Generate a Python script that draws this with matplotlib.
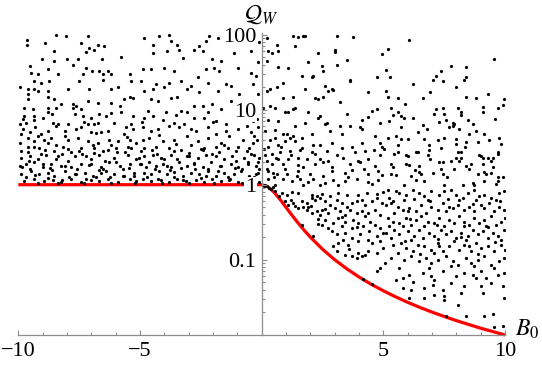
import numpy as np
import matplotlib
matplotlib.use("Agg")
import matplotlib.pyplot as plt
from matplotlib.ticker import FixedLocator, MultipleLocator, LogLocator, NullFormatter

plt.rcParams['font.family'] = ['Liberation Serif', 'DejaVu Serif']
plt.rcParams['mathtext.fontset'] = 'stix'

# scatter points (B0, Q_W)
pts_left_far = [
    (-8.45, 98), (-8.04, 97), (-7.15, 96), (-9.64, 84), (-9.64, 74), (-8.90, 78), (-7.42, 78),
    (-7.08, 67), (-6.87, 63), (-6.73, 74), (-6.46, 70), (-8.52, 60), (-7.22, 59), (-9.04, 48),
    (-8.00, 47), (-8.52, 44), (-7.53, 47), (-6.57, 47), (-5.78, 50), (-7.76, 40), (-9.54, 38),
    (-8.79, 35), (-7.22, 36), (-6.98, 33), (-9.47, 31), (-9.20, 30), (-8.38, 30), (-7.35, 30),
    (-6.67, 33), (-6.53, 30), (-6.32, 33), (-6.19, 30), (-5.43, 30), (-9.34, 24), (-9.06, 23),
    (-8.72, 24), (-7.49, 24), (-6.53, 25), (-5.36, 24), (-9.94, 20), (-9.61, 19), (-9.34, 19),
    (-9.20, 18), (-8.79, 18), (-7.97, 19), (-7.08, 19), (-6.19, 19), (-5.91, 20), (-9.61, 16),
    (-8.79, 15), (-5.30, 14.5), (-5.43, 15), (-9.61, 13.8), (-8.52, 13.8), (-8.24, 11.8),
    (-7.76, 11.8), (-7.63, 11.2), (-7.15, 13), (-6.73, 12.4), (-6.19, 12.4), (-5.84, 11.2),
    (-5.64, 13.8), (-9.75, 10.6), (-9.41, 10.1), (-8.79, 10.6), (-8.45, 10.6), (-7.76, 10.6),
    (-7.42, 10.1), (-9.75, 8.2), (-9.34, 8.2), (-8.99, 7.8), (-8.79, 9.2), (-7.69, 8.7),
    (-7.35, 8.2), (-7.01, 7.8), (-6.67, 8.7), (-6.39, 8.2), (-5.78, 9.2), (-5.30, 8.2),
    (-9.95, 6.4), (-9.68, 6.7), (-9.34, 7.4), (-8.58, 6.7), (-8.45, 6.1), (-8.38, 6.4),
    (-7.97, 6.4), (-7.42, 5.8), (-7.15, 6.4), (-6.87, 6.4), (-6.73, 6.7), (-6.05, 6.7),
    (-5.57, 5.8), (-5.36, 6.4), (-9.82, 5.5), (-9.89, 4.7), (-9.54, 5.0), (-9.06, 4.7),
    (-8.79, 5.2), (-8.10, 5.2), (-7.63, 5.5), (-7.01, 5.0), (-6.60, 5.0), (-6.32, 5.2),
    (-5.64, 4.7), (-5.30, 5.5), (-9.95, 3.6), (-9.61, 4.2), (-9.34, 3.8), (-9.20, 4.5),
    (-8.93, 4.0), (-8.65, 4.2), (-8.45, 3.4), (-7.97, 4.0), (-7.56, 4.2), (-7.15, 3.8),
    (-6.73, 3.6), (-6.26, 4.0), (-5.91, 3.8), (-5.43, 4.0), (-9.89, 2.8), (-9.61, 3.2),
    (-9.34, 3.2), (-9.13, 3.1), (-8.79, 3.6), (-8.52, 2.8), (-8.17, 3.2), (-7.83, 2.7),
    (-7.42, 3.1), (-6.87, 3.1), (-6.53, 2.8), (-6.19, 3.4), (-5.98, 3.1), (-5.36, 3.1),
    (-5.16, 3.6), (-9.89, 2.3), (-9.54, 2.4), (-9.20, 2.2), (-8.86, 2.5), (-8.38, 2.4),
    (-7.97, 2.1), (-7.69, 2.4), (-7.22, 2.4), (-7.01, 2.2), (-6.67, 2.5), (-6.05, 2.3),
    (-5.50, 2.5), (-5.16, 2.2), (-9.95, 1.8), (-9.68, 1.9), (-9.34, 2.0), (-8.99, 1.7),
    (-8.65, 1.9), (-8.24, 1.8), (-7.83, 1.7), (-7.42, 1.9), (-7.01, 1.9), (-6.60, 1.7),
    (-6.26, 2.0), (-5.84, 1.8), (-5.43, 1.9), (-9.89, 1.38), (-9.47, 1.5), (-9.13, 1.38),
    (-8.79, 1.45), (-8.52, 1.3), (-8.10, 1.5), (-7.69, 1.38), (-7.28, 1.45), (-6.94, 1.3),
    (-6.60, 1.45), (-6.39, 1.5), (-6.05, 1.38), (-5.64, 1.3), (-5.23, 1.45), (-9.75, 1.12),
    (-9.34, 1.18), (-8.93, 1.12), (-8.58, 1.14), (-8.24, 1.1), (-7.83, 1.18), (-7.42, 1.1),
    (-7.01, 1.14), (-6.67, 1.12), (-6.32, 1.18), (-5.91, 1.1), (-5.43, 1.18), (-5.16, 1.12),
]

pts_left_near = [
    (-4.21, 97), (-3.80, 99), (-2.15, 97), (-4.83, 90), (-4.48, 74), (-3.73, 82), (-3.46, 74),
    (-2.57, 70), (-2.29, 82), (-1.81, 90), (-1.20, 78), (-3.87, 60), (-3.39, 63), (-2.77, 63),
    (-2.43, 60), (-4.48, 57), (-3.25, 49), (-2.02, 47), (-1.68, 45), (-1.13, 57), (-0.17, 43),
    (-4.89, 35), (-4.55, 35), (-4.00, 36), (-3.59, 33), (-2.63, 27), (-2.29, 35), (-1.95, 36),
    (-1.74, 33), (-0.99, 36), (-0.44, 31), (-4.96, 24), (-4.35, 22), (-3.80, 23), (-3.32, 24),
    (-2.91, 21), (-2.22, 23), (-1.47, 22), (-1.26, 21), (-0.37, 22), (-4.83, 18), (-4.48, 19),
    (-4.00, 20), (-3.05, 19), (-2.57, 17), (-1.81, 18), (-0.92, 16), (-4.55, 13.8), (-4.28, 13),
    (-3.73, 14.5), (-3.46, 15), (-2.77, 11.2), (-2.43, 11.2), (-2.02, 11.8), (-1.68, 10.1),
    (-1.26, 13), (-4.69, 9.6), (-3.94, 9.2), (-3.32, 9.6), (-3.05, 9.2), (-2.22, 9.2),
    (-4.83, 7.8), (-4.48, 8.2), (-4.07, 7.4), (-3.59, 6.7), (-3.18, 6.4), (-2.77, 7.8),
    (-2.36, 7.8), (-1.88, 7.1), (-1.47, 6.4), (-0.37, 7.1), (-4.89, 5.8), (-4.55, 5.2),
    (-4.28, 5.5), (-3.80, 6.1), (-3.39, 5.8), (-2.70, 5.2), (-2.22, 5.8), (-1.88, 4.7),
    (-0.99, 5.5), (-0.44, 5.0), (-0.17, 5.8), (-4.89, 4.0), (-4.62, 4.2), (-4.07, 3.8),
    (-3.59, 4.0), (-3.05, 4.5), (-2.63, 3.8), (-2.22, 4.2), (-1.68, 3.6), (-1.33, 4.5),
    (-0.78, 4.0), (-0.37, 3.6), (-4.83, 3.1), (-4.35, 3.2), (-3.80, 3.1), (-3.32, 2.9),
    (-2.91, 3.4), (-2.36, 3.1), (-1.88, 3.2), (-1.40, 3.1), (-0.99, 3.2), (-0.51, 3.1),
    (-4.83, 2.4), (-4.48, 2.5), (-4.14, 2.3), (-3.73, 2.5), (-3.46, 2.2), (-3.05, 2.4),
    (-2.63, 2.3), (-2.29, 2.5), (-1.88, 2.4), (-1.54, 2.2), (-1.20, 2.4), (-0.72, 2.3),
    (-0.31, 2.5), (-4.96, 1.9), (-4.62, 2.0), (-4.35, 1.8), (-4.07, 1.9), (-3.73, 1.7),
    (-3.39, 2.0), (-3.05, 1.8), (-2.77, 1.9), (-2.43, 1.7), (-2.08, 2.0), (-1.68, 1.8),
    (-1.26, 1.9), (-0.99, 1.7), (-0.58, 2.0), (-0.24, 1.8), (-4.83, 1.45), (-4.55, 1.38),
    (-4.21, 1.5), (-3.87, 1.38), (-3.59, 1.48), (-3.25, 1.3), (-2.91, 1.45), (-2.57, 1.38),
    (-2.22, 1.5), (-1.88, 1.3), (-1.54, 1.45), (-1.13, 1.38), (-0.85, 1.5), (-0.51, 1.3),
    (-0.17, 1.45), (-4.89, 1.18), (-4.55, 1.12), (-4.14, 1.14), (-3.80, 1.1), (-3.46, 1.18),
    (-3.11, 1.12), (-2.70, 1.14), (-2.36, 1.1), (-2.02, 1.18), (-1.68, 1.12), (-1.33, 1.14),
    (-0.99, 1.1), (-0.65, 1.18), (-0.37, 1.12),
]

pts_left_low = [
    (-9.7, 1.25), (-9.5, 1.6), (-9.2, 1.05), (-9.0, 1.9), (-8.8, 1.22), (-8.6, 1.55),
    (-8.35, 1.05), (-8.1, 1.75), (-7.9, 1.28), (-7.6, 1.6), (-7.3, 1.06), (-7.1, 1.85),
    (-6.8, 1.25), (-6.5, 1.6), (-6.2, 1.04), (-6.0, 2.0), (-5.7, 1.3), (-5.45, 1.65),
    (-5.2, 1.05), (-5.0, 1.9), (-4.7, 1.25), (-4.4, 1.6), (-4.1, 1.05), (-3.9, 1.8),
    (-3.6, 1.27), (-3.3, 1.65), (-3.0, 1.04), (-2.8, 1.95), (-2.5, 1.24), (-2.2, 1.6),
    (-1.95, 1.05), (-1.7, 1.8), (-1.4, 1.25), (-1.1, 1.65), (-0.8, 1.06), (-0.55, 1.9),
    (-0.3, 1.28), (-0.1, 1.6), (-9.6, 2.7), (-8.9, 2.9), (-8.2, 2.6), (-7.5, 2.8),
    (-6.9, 2.65), (-6.3, 2.9), (-5.6, 2.7), (-4.95, 2.85), (-4.3, 2.6), (-3.6, 2.8),
    (-3.0, 2.65), (-2.4, 2.9), (-1.75, 2.7), (-1.05, 2.85), (-0.45, 2.6), (-0.2, 3.9),
    (-0.1, 2.3), (-0.25, 1.4),
    (-9.85, 1.7), (-9.55, 2.1), (-9.3, 1.35), (-9.05, 2.6), (-8.7, 1.65), (-8.45, 2.2),
    (-8.2, 1.15), (-7.95, 3.0), (-7.65, 1.4), (-7.4, 2.6), (-7.2, 1.2), (-6.95, 3.4),
    (-6.7, 1.55), (-6.45, 2.1), (-6.25, 1.25), (-5.95, 2.7), (-5.7, 1.6), (-5.5, 3.2),
    (-5.25, 1.3), (-5.05, 2.3), (-4.75, 1.7), (-4.5, 2.9), (-4.25, 1.2), (-4.0, 2.2),
    (-3.75, 1.55), (-3.5, 3.5), (-3.25, 1.15), (-3.0, 2.4), (-2.75, 1.6), (-2.5, 3.0),
    (-2.3, 1.3), (-2.05, 2.6), (-1.8, 1.5), (-1.55, 3.4), (-1.3, 1.2), (-1.05, 2.1),
    (-0.8, 1.6), (-0.6, 2.8), (-0.4, 1.15), (-0.15, 2.0), (-0.12, 1.1), (-0.3, 4.5),
    (-0.2, 7.5), (-0.35, 12), (-0.15, 16), (-0.25, 28), (-0.45, 60), (-0.1, 80),
    (-9.8, 7.5), (-9.3, 5.8), (-8.6, 8.8), (-8.1, 4.4), (-7.3, 6.9), (-6.8, 4.9),
    (-6.2, 9.0), (-5.55, 4.3), (-4.9, 6.8), (-4.2, 4.6), (-3.5, 8.4), (-2.9, 5.6),
    (-2.0, 6.9), (-1.45, 5.2), (-0.8, 8.6), (-0.6, 6.0),
]

pts_right_near_upper = [
    (0.21, 90), (1.30, 97), (1.51, 93), (1.71, 96), (1.78, 95), (3.08, 97), (3.77, 93),
    (0.62, 74), (0.27, 60), (0.41, 57), (0.68, 60), (1.37, 70), (2.33, 57), (3.01, 63),
    (3.01, 59), (0.21, 45), (0.68, 37), (1.10, 36), (1.92, 43), (2.47, 38), (2.53, 33),
    (3.08, 40), (3.49, 46), (4.93, 55), (1.64, 28), (2.05, 27), (2.12, 28), (3.63, 25),
    (3.63, 24), (4.73, 27), (0.21, 18), (0.34, 19), (0.62, 20), (0.89, 23), (1.78, 19),
    (2.60, 21), (2.74, 18), (2.88, 19), (2.95, 18.5), (4.38, 17), (0.89, 14.2), (1.30, 15),
    (2.19, 14.5), (2.33, 13.8), (2.53, 15), (3.22, 12.8), (0.07, 10.6), (0.34, 11.2),
    (0.55, 10.6), (0.96, 9.2), (1.10, 9.2), (1.30, 10.1), (1.37, 10.6), (1.92, 9.2),
    (2.40, 8.2), (3.49, 8.9), (4.52, 9.6), (4.73, 10.1), (0.27, 7.4), (0.68, 7.1),
    (2.33, 7.8), (2.67, 6.7), (4.11, 7.4), (4.38, 8.0), (4.86, 6.7), (0.14, 5.2),
    (0.55, 5.3), (0.89, 4.8), (1.37, 6.1), (1.78, 6.7), (2.60, 6.4), (3.22, 6.1),
    (3.63, 6.1), (4.04, 5.8), (4.11, 5.5), (0.55, 4.2), (1.03, 4.7), (1.16, 4.2),
    (1.30, 4.5), (1.37, 3.8), (1.64, 4.2), (2.05, 4.8), (2.81, 5.2), (3.29, 4.8),
    (4.66, 4.5), (0.27, 3.2), (0.68, 3.4), (0.96, 3.8), (1.64, 3.1), (2.12, 3.4),
    (2.40, 3.4), (2.88, 3.6), (3.70, 3.2), (4.11, 3.6), (4.86, 3.6), (4.93, 3.2),
    (0.14, 2.5), (0.41, 2.6), (0.75, 2.7), (1.16, 2.8), (1.58, 2.9), (2.05, 2.7),
    (2.67, 2.8), (3.08, 2.5), (3.84, 2.7), (4.25, 2.8), (4.86, 2.5), (0.21, 2.1),
    (0.68, 2.2), (1.10, 2.2), (1.51, 2.3), (1.85, 2.2), (2.40, 2.2), (2.74, 2.1),
    (3.36, 2.3), (3.97, 2.1), (4.38, 2.2), (0.41, 1.9), (0.89, 1.9), (1.51, 1.85),
    (2.19, 1.9), (2.53, 2.0), (3.63, 1.9), (4.04, 2.0), (4.66, 1.8), (0.27, 1.5),
    (0.48, 1.45), (0.62, 1.4), (1.03, 1.38), (1.51, 1.5), (1.99, 1.38), (2.53, 1.3),
    (2.88, 1.5), (3.42, 1.45), (3.70, 1.55), (4.38, 1.38), (4.79, 1.5), (0.27, 1.18),
    (0.89, 1.18), (1.23, 1.12), (1.58, 1.18), (1.92, 1.1), (2.12, 1.18), (2.60, 1.06),
    (2.95, 1.14), (3.42, 1.12), (3.90, 1.18), (4.38, 1.1), (4.79, 1.14), (0.14, 1.0),
    (0.55, 1.0), (1.71, 1.0), (2.40, 1.0), (3.15, 0.98), (4.52, 1.02),
    (0.1, 3.0), (0.2, 1.6), (0.35, 4.0), (0.5, 1.25), (0.6, 2.3), (0.8, 3.2), (0.95, 1.6),
    (1.2, 2.5), (1.45, 1.3), (1.7, 1.7), (2.2, 2.6), (2.9, 1.7), (3.3, 3.1), (3.55, 1.25),
    (4.2, 1.6), (4.6, 2.9), (4.95, 1.35),
]

pts_right_far_upper = [
    (6.07, 86), (5.18, 65), (9.56, 47), (7.78, 38), (8.40, 37), (5.11, 34), (7.37, 33),
    (7.16, 28), (7.03, 25), (7.44, 24), (8.33, 25), (8.40, 27), (5.29, 27), (6.20, 22),
    (5.11, 18), (5.18, 15), (5.59, 14.2), (6.62, 14.5), (8.40, 14.8), (8.81, 14.5),
    (9.97, 13.8), (9.70, 10.6), (9.90, 11.5), (5.31, 10.6), (5.38, 8.5), (5.59, 9.2),
    (5.25, 7.1), (5.72, 8.2), (5.86, 7.8), (6.20, 7.8), (7.16, 10.1), (7.44, 10.4),
    (7.09, 8.7), (7.51, 8.9), (8.19, 9.2), (8.19, 8.5), (8.05, 10.6), (9.08, 10.8),
    (9.08, 9.2), (7.57, 7.4), (7.30, 6.9), (7.85, 6.7), (7.85, 6.1), (7.71, 5.9),
    (7.92, 6.4), (8.46, 7.4), (5.72, 5.9), (6.62, 6.2), (8.81, 5.2), (9.15, 4.8),
    (8.12, 5.5), (5.18, 4.2), (5.52, 4.5), (5.72, 4.1), (6.00, 4.1), (6.41, 5.0),
    (6.68, 4.1), (7.23, 4.0), (7.51, 4.2), (7.99, 4.1), (8.53, 4.7), (8.40, 3.7),
    (8.88, 3.7), (9.36, 4.0), (9.77, 4.2), (5.04, 3.0), (6.89, 3.4), (6.89, 2.9),
    (7.37, 3.1), (7.99, 3.5), (9.70, 2.7), (5.45, 2.6), (5.59, 2.7), (5.93, 2.5),
    (6.00, 2.4), (6.34, 2.7), (6.41, 2.7), (6.82, 2.5), (8.05, 2.7), (8.19, 2.7),
    (9.01, 2.4), (8.94, 2.5), (9.08, 2.3), (9.29, 2.3), (9.49, 2.3), (5.31, 1.9),
    (5.38, 1.7), (5.93, 1.9), (6.07, 1.85), (6.48, 1.8), (7.30, 2.0), (7.44, 2.0),
    (7.78, 2.1), (7.99, 2.3), (8.19, 2.3), (8.12, 2.1), (8.60, 1.9), (9.08, 1.9),
    (9.42, 2.1), (9.70, 2.6), (5.31, 1.38), (5.52, 1.35), (6.14, 1.3), (6.55, 1.38),
    (6.48, 1.48), (7.03, 1.45), (7.37, 1.6), (7.44, 1.38), (7.92, 1.6), (8.40, 1.75),
    (8.53, 1.6), (9.15, 1.48), (9.22, 1.38), (9.42, 1.45), (9.70, 1.25), (9.90, 1.25),
    (9.70, 1.12), (5.86, 1.0), (6.34, 1.14), (6.68, 1.12), (7.51, 1.0), (8.26, 1.0),
    (8.67, 1.05), (8.74, 1.0), (9.15, 1.12), (9.63, 1.02),
    (5.6, 3.4), (6.3, 1.55), (6.9, 2.2), (7.6, 1.25), (8.35, 3.2), (8.9, 1.4), (9.5, 1.7),
    (9.85, 3.5), (6.8, 5.5), (8.7, 6.5), (9.6, 7.5), (5.9, 12), (6.9, 17), (8.0, 20), (9.3, 16),
]

pts_right_near_lower = [
    (0.10, 0.95), (0.30, 0.90), (0.45, 0.93), (0.20, 0.97),
    (0.55, 0.82), (0.82, 0.77), (1.03, 0.73), (1.23, 0.79), (1.51, 0.77), (2.05, 0.73),
    (2.26, 0.71), (2.47, 0.76), (2.81, 0.71), (3.15, 0.77), (3.49, 0.73), (3.97, 0.73),
    (4.32, 0.77), (4.73, 0.76), (5.00, 0.79), (0.96, 0.60), (1.10, 0.54), (1.30, 0.57),
    (1.64, 0.60), (1.85, 0.57), (2.05, 0.66), (2.19, 0.63), (2.40, 0.66), (2.60, 0.60),
    (2.81, 0.54), (3.08, 0.63), (3.29, 0.57), (3.49, 0.51), (3.70, 0.57), (3.90, 0.60),
    (4.11, 0.63), (4.25, 0.54), (4.52, 0.60), (4.73, 0.66), (4.93, 0.57), (1.37, 0.52),
    (1.71, 0.51), (2.03, 0.52), (1.51, 0.49), (1.85, 0.46), (2.26, 0.44), (2.47, 0.46),
    (2.74, 0.42), (3.01, 0.49), (3.22, 0.44), (3.42, 0.40), (3.63, 0.46), (3.90, 0.42),
    (4.11, 0.44), (4.38, 0.42), (4.66, 0.46), (4.86, 0.40), (2.40, 0.40), (2.05, 0.42),
    (4.25, 0.38), (1.64, 0.29), (2.33, 0.35), (2.60, 0.34), (2.95, 0.31), (3.15, 0.36),
    (3.42, 0.32), (3.77, 0.34), (3.97, 0.31), (4.18, 0.28), (4.45, 0.32), (4.66, 0.29),
    (4.86, 0.265), (3.29, 0.28), (3.70, 0.265), (2.74, 0.265), (2.47, 0.29), (2.12, 0.21),
    (2.88, 0.24), (3.08, 0.22), (3.42, 0.23), (3.70, 0.195), (4.04, 0.22), (4.38, 0.185),
    (4.73, 0.21), (5.00, 0.23), (3.15, 0.167), (3.56, 0.158), (3.97, 0.175), (4.52, 0.167),
    (4.86, 0.175), (2.95, 0.15), (3.36, 0.185), (3.08, 0.129), (3.42, 0.117), (3.70, 0.111),
    (3.97, 0.123), (4.25, 0.117), (4.38, 0.129), (4.73, 0.123), (5.00, 0.143), (3.90, 0.105),
    (4.11, 0.111), (5.07, 0.09), (4.86, 0.078), (4.73, 0.070), (4.18, 0.055), (4.52, 0.047),
    (0.4, 0.87), (0.7, 0.7), (1.2, 0.62), (1.9, 0.5), (2.6, 0.48), (3.3, 0.37), (3.9, 0.27),
    (4.4, 0.24), (2.3, 0.3), (3.6, 0.14),
]

pts_right_far_lower = [
    (5.18, 0.86), (5.52, 0.82), (5.66, 0.77), (5.93, 0.73), (6.20, 0.86), (6.48, 0.77),
    (6.68, 0.70), (6.96, 0.82), (7.30, 0.73), (7.51, 0.82), (7.78, 0.86), (7.99, 0.73),
    (8.26, 0.66), (8.46, 0.77), (8.74, 0.86), (8.94, 0.70), (9.15, 0.73), (9.42, 0.66),
    (9.77, 0.77), (9.97, 0.82), (5.25, 0.66), (5.86, 0.63), (6.27, 0.64), (6.82, 0.63),
    (7.64, 0.64), (8.12, 0.63), (8.81, 0.63), (9.63, 0.63), (5.11, 0.54), (5.31, 0.57),
    (5.59, 0.51), (5.79, 0.46), (6.07, 0.49), (6.34, 0.44), (6.55, 0.54), (6.75, 0.42),
    (6.96, 0.51), (7.23, 0.46), (7.44, 0.57), (7.57, 0.44), (7.85, 0.49), (8.05, 0.54),
    (8.33, 0.46), (8.53, 0.51), (8.74, 0.44), (9.01, 0.54), (9.15, 0.49), (9.36, 0.57),
    (9.56, 0.44), (9.77, 0.51), (9.97, 0.46), (5.45, 0.42), (6.00, 0.44), (5.18, 0.36),
    (5.38, 0.32), (5.66, 0.31), (5.93, 0.36), (6.14, 0.29), (6.34, 0.34), (6.55, 0.38),
    (6.82, 0.32), (7.09, 0.31), (7.30, 0.36), (7.51, 0.28), (7.71, 0.34), (7.92, 0.31),
    (8.12, 0.38), (8.33, 0.32), (8.53, 0.29), (8.74, 0.36), (8.94, 0.31), (9.15, 0.34),
    (9.42, 0.38), (9.63, 0.29), (9.83, 0.32), (9.99, 0.36), (5.25, 0.28), (5.79, 0.28),
    (6.68, 0.285), (8.33, 0.28), (9.22, 0.28), (5.11, 0.23), (5.45, 0.25), (5.66, 0.22),
    (6.00, 0.24), (6.27, 0.21), (6.48, 0.25), (6.62, 0.195), (6.89, 0.23), (7.09, 0.21),
    (7.37, 0.25), (7.57, 0.22), (7.78, 0.24), (7.99, 0.195), (8.19, 0.23), (8.46, 0.21),
    (8.67, 0.25), (8.88, 0.22), (9.08, 0.24), (9.29, 0.195), (9.49, 0.23), (9.70, 0.21),
    (9.97, 0.25), (5.31, 0.195), (6.14, 0.185), (7.23, 0.19), (8.40, 0.185), (9.83, 0.185),
    (5.38, 0.158), (5.72, 0.167), (5.93, 0.143), (6.20, 0.129), (6.41, 0.158), (6.68, 0.15),
    (6.96, 0.136), (7.23, 0.167), (7.44, 0.129), (7.71, 0.15), (7.92, 0.175), (8.12, 0.136),
    (8.33, 0.158), (8.60, 0.129), (8.81, 0.167), (9.01, 0.143), (9.29, 0.15), (9.56, 0.129),
    (9.83, 0.158), (9.99, 0.136), (5.59, 0.123), (7.09, 0.123), (8.53, 0.15), (5.31, 0.105),
    (5.86, 0.10), (6.14, 0.111), (6.48, 0.095), (6.75, 0.105), (6.96, 0.09), (7.23, 0.10),
    (7.57, 0.111), (7.85, 0.095), (8.05, 0.086), (8.40, 0.105), (8.60, 0.09), (8.88, 0.10),
    (9.15, 0.111), (9.42, 0.086), (9.77, 0.095), (9.97, 0.105), (5.66, 0.078), (6.89, 0.078),
    (7.78, 0.082), (8.74, 0.082), (9.56, 0.078), (5.52, 0.054), (5.79, 0.057), (6.07, 0.063),
    (6.62, 0.066), (6.96, 0.060), (7.09, 0.054), (7.44, 0.070), (7.99, 0.060), (8.33, 0.066),
    (8.67, 0.063), (8.81, 0.057), (9.01, 0.070), (9.22, 0.057), (9.70, 0.063), (9.97, 0.066),
    (5.79, 0.042), (6.14, 0.040), (6.68, 0.042), (7.03, 0.046), (7.44, 0.040), (7.78, 0.049),
    (8.33, 0.044), (9.01, 0.044), (9.42, 0.049), (9.90, 0.044), (6.20, 0.051), (6.07, 0.031),
    (6.68, 0.031), (7.09, 0.034), (7.51, 0.033), (7.51, 0.029), (8.05, 0.025), (8.19, 0.036),
    (9.08, 0.036), (9.97, 0.031), (7.57, 0.0175), (8.40, 0.0175), (9.15, 0.018), (9.49, 0.019),
    (9.56, 0.0125), (9.90, 0.013),
    (5.4, 0.6), (6.1, 0.35), (6.9, 0.6), (7.2, 0.29), (7.7, 0.5), (8.2, 0.2), (8.7, 0.55),
    (9.3, 0.27), (9.8, 0.6), (5.9, 0.18), (6.5, 0.12), (7.3, 0.15), (8.9, 0.12), (9.6, 0.17),
]

# red bound curve
curve_b0 = [-10, 0, 0.25, 0.5, 0.75, 1.0, 1.25, 1.5, 1.75, 2.0, 2.5, 3.0, 3.5, 4.0, 4.5,
            5.0, 5.5, 6.0, 6.5, 7.0, 7.5, 8.0, 8.5, 9.0, 9.5, 10]
curve_q = [1.0, 1.0, 0.941, 0.80, 0.64, 0.50, 0.39, 0.308, 0.246, 0.20, 0.138, 0.10, 0.0755,
           0.0588, 0.047, 0.0385, 0.032, 0.027, 0.0231, 0.020, 0.0175, 0.0154, 0.0137,
           0.0122, 0.0110, 0.0099]

x_major = [-10, -5, 5, 10]
x_labels = ['\u221210', '\u22125', '5', '10']
y_major = [0.1, 1, 10, 100]
y_labels = ['0.1', '1', '10', '100']

all_pts = (pts_left_far + pts_left_near + pts_left_low + pts_right_near_upper
           + pts_right_far_upper + pts_right_near_lower + pts_right_far_lower)
pts = np.array(all_pts)

fig = plt.figure(figsize=(5.42, 3.65), dpi=100)
ax = fig.add_axes([0.0338, 0.0822, 0.8979, 0.827])

ax.plot(curve_b0, curve_q, color='#ff0000', lw=2.3, zorder=2, clip_on=False,
        solid_capstyle='butt')
ax.plot(pts[:, 0], pts[:, 1], 'o', color='black', markersize=2.3, markeredgewidth=0,
        zorder=2.2)

ax.set_yscale('log')
ax.set_xlim(-10, 10)
ax.set_ylim(0.0099, 105)
ax.set_axisbelow(False)

for s in ['top', 'right']:
    ax.spines[s].set_visible(False)
ax.spines['left'].set_position(('data', 0))
for s in ['left', 'bottom']:
    ax.spines[s].set_color('#8c8c8c')
    ax.spines[s].set_linewidth(0.9)

ax.xaxis.set_major_locator(FixedLocator(x_major))
ax.set_xticklabels(x_labels)
ax.xaxis.set_minor_locator(MultipleLocator(1))
ax.yaxis.set_major_locator(FixedLocator(y_major))
ax.set_yticklabels(y_labels)
ax.yaxis.set_minor_locator(LogLocator(base=10, subs=np.arange(2, 10)))
ax.yaxis.set_minor_formatter(NullFormatter())

ax.tick_params(which='both', direction='in', color='#8c8c8c', width=0.8,
               labelsize=16, labelcolor='black')
ax.tick_params(which='major', length=3.5)
ax.tick_params(which='minor', length=2)
ax.tick_params(axis='x', which='major', pad=5)
ax.tick_params(axis='y', which='major', pad=4)

for lab in ax.get_yticklabels():
    lab.set_bbox(dict(facecolor='white', edgecolor='none', pad=0.5))

ax.annotate(r'$\mathcal{Q}_W$', xy=(0, 1), xycoords=('data', 'axes fraction'),
            xytext=(0, 13), textcoords='offset points', ha='center', va='center',
            fontsize=17, annotation_clip=False)
ax.annotate(r'$B_0$', xy=(10, 0), xycoords=('data', 'axes fraction'),
            xytext=(16, 4), textcoords='offset points', ha='center', va='center',
            fontsize=17, annotation_clip=False)

fig.savefig('out.png', dpi=100)
